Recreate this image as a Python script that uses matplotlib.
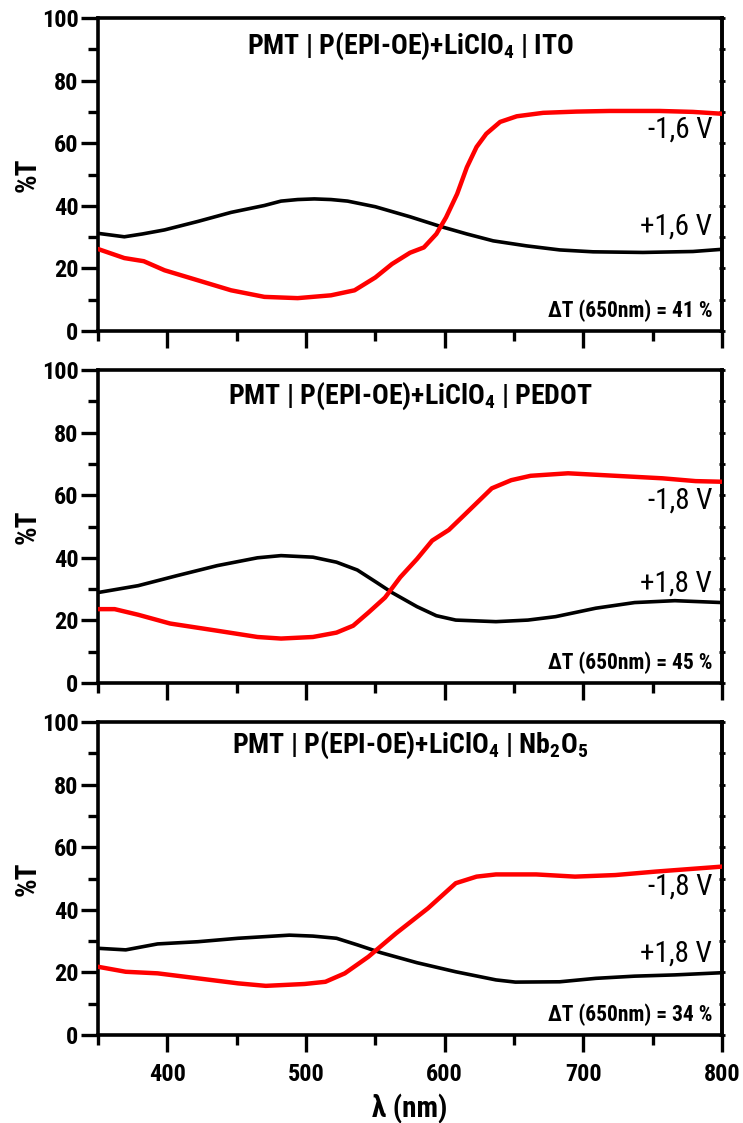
import matplotlib
matplotlib.use("Agg")
import matplotlib.pyplot as plt
from matplotlib.ticker import MultipleLocator
from matplotlib import font_manager as fm


def _has_bold(name):
    for f in fm.fontManager.ttflist:
        if f.name == name:
            w = f.weight
            if isinstance(w, str):
                if w.lower() in ('bold', 'heavy', 'black', 'extra bold', 'semibold'):
                    return True
                try:
                    w = int(w)
                except ValueError:
                    continue
            if w >= 700:
                return True
    return False


cands = ['Liberation Sans Narrow', 'Arial Narrow', 'Roboto Condensed', 'Archivo Narrow',
         'PT Sans Narrow', 'Fira Sans Condensed', 'IBM Plex Sans Condensed',
         'Encode Sans Condensed', 'Barlow Semi Condensed', 'Asap Condensed',
         'Sofia Sans Condensed', 'Open Sans Condensed', 'Pragati Narrow', 'Liberation Sans']
NARROW = next((c for c in cands if _has_bold(c)), 'DejaVu Sans')
FONT = [NARROW, 'DejaVu Sans']
plt.rcParams['font.family'] = FONT
plt.rcParams['mathtext.fontset'] = 'custom'
plt.rcParams['mathtext.rm'] = NARROW + ':bold'
plt.rcParams['mathtext.bf'] = NARROW + ':bold'
plt.rcParams['mathtext.it'] = NARROW + ':bold'

# ---------------- data ----------------
# Panel 1: ITO
ito_pos_x = [350, 369, 382, 398, 422, 446, 470, 482, 494, 506, 518, 530, 550, 575, 597, 616, 635, 659, 683, 707, 743, 779, 800]
ito_pos_y = [31.2, 30.1, 31.0, 32.3, 35.0, 37.9, 40.1, 41.5, 42.0, 42.2, 42.0, 41.5, 39.7, 36.5, 33.4, 31.0, 28.8, 27.2, 25.9, 25.3, 25.1, 25.4, 26.1]
ito_neg_x = [350, 369, 383, 398, 422, 446, 470, 494, 518, 535, 550, 562, 575, 585, 594, 601, 609, 616, 623, 630, 640, 652, 671, 695, 719, 755, 779, 800]
ito_neg_y = [26.2, 23.3, 22.3, 19.4, 16.2, 13.0, 10.9, 10.5, 11.4, 13.0, 17.1, 21.4, 25.0, 26.7, 31.0, 36.3, 43.8, 52.3, 58.8, 63.0, 66.8, 68.6, 69.7, 70.1, 70.3, 70.3, 70.0, 69.4]

# Panel 2: PEDOT
ped_pos_x = [350, 379, 407, 436, 465, 482, 505, 522, 537, 551, 562, 580, 594, 608, 637, 660, 680, 709, 737, 766, 800]
ped_pos_y = [28.9, 31.1, 34.3, 37.5, 40.0, 40.7, 40.2, 38.6, 36.1, 32.1, 28.9, 24.4, 21.5, 20.1, 19.6, 20.1, 21.2, 23.9, 25.7, 26.3, 25.7]
ped_neg_x = [350, 362, 379, 402, 436, 465, 482, 505, 522, 534, 545, 557, 568, 580, 591, 603, 614, 634, 648, 662, 689, 723, 757, 781, 800]
ped_neg_y = [23.6, 23.6, 21.8, 19.0, 16.7, 14.7, 14.2, 14.7, 16.1, 18.3, 22.5, 27.3, 33.8, 39.6, 45.5, 48.9, 53.6, 62.2, 64.8, 66.2, 67.0, 66.2, 65.4, 64.5, 64.3]

# Panel 3: Nb2O5
nb_pos_x = [350, 370, 393, 422, 451, 488, 505, 522, 537, 554, 580, 608, 637, 651, 683, 709, 737, 766, 800]
nb_pos_y = [27.7, 27.2, 29.1, 29.8, 30.9, 31.9, 31.6, 30.9, 28.8, 26.3, 23.1, 20.2, 17.6, 16.9, 17.0, 18.1, 18.8, 19.2, 19.9]
nb_neg_x = [350, 370, 393, 422, 451, 471, 499, 514, 528, 545, 565, 588, 608, 623, 637, 666, 694, 723, 752, 800]
nb_neg_y = [21.8, 20.2, 19.7, 18.1, 16.5, 15.7, 16.3, 17.0, 19.7, 25.0, 32.5, 40.5, 48.5, 50.6, 51.3, 51.3, 50.6, 51.1, 52.2, 53.8]

titles = [r'PMT | P(EPI-OE)+LiClO$_{4}$ | ITO',
          r'PMT | P(EPI-OE)+LiClO$_{4}$ | PEDOT',
          r'PMT | P(EPI-OE)+LiClO$_{4}$ | Nb$_{2}$O$_{5}$']
neg_labels = ['-1,6 V', '-1,8 V', '-1,8 V']
pos_labels = ['+1,6 V', '+1,8 V', '+1,8 V']
delta_labels = ['ΔT (650nm) = 41 %', 'ΔT (650nm) = 45 %', 'ΔT (650nm) = 34 %']
neg_label_y = [64.5, 58.4, 47.3]
pos_label_y = [33.2, 31.8, 26.0]
title_y = [91.0, 91.5, 92.5]

panels = [
    (ito_pos_x, ito_pos_y, ito_neg_x, ito_neg_y),
    (ped_pos_x, ped_pos_y, ped_neg_x, ped_neg_y),
    (nb_pos_x, nb_pos_y, nb_neg_x, nb_neg_y),
]

# ---------------- figure ----------------
fig = plt.figure(figsize=(7.43, 11.23), dpi=100)
W, H = 743, 1123
left, right = 98, 722
tops = [18, 370, 722]
ph = 313

for i, (px, py, nx, ny) in enumerate(panels):
    top = tops[i]
    ax = fig.add_axes([left / W, 1 - (top + ph) / H, (right - left) / W, ph / H])
    ax.plot(px, py, color='black', lw=2.6, solid_capstyle='round',
            solid_joinstyle='round', zorder=3)
    ax.plot(nx, ny, color='#ff0000', lw=3.2, solid_capstyle='round',
            solid_joinstyle='round', zorder=3)
    ax.set_xlim(350, 800)
    ax.set_ylim(0, 100)
    for s in ax.spines.values():
        s.set_linewidth(2.6)
    ax.xaxis.set_major_locator(MultipleLocator(100))
    ax.xaxis.set_minor_locator(MultipleLocator(50))
    ax.yaxis.set_major_locator(MultipleLocator(20))
    ax.yaxis.set_minor_locator(MultipleLocator(10))
    ax.tick_params(axis='x', which='major', direction='out', length=12, width=2.4,
                   labelsize=17.5, pad=8)
    ax.tick_params(axis='x', which='minor', direction='out', length=7, width=2.4)
    ax.tick_params(axis='y', which='major', direction='out', length=12, width=2.4,
                   labelsize=17.5, pad=2)
    ax.tick_params(axis='y', which='minor', direction='out', length=7, width=2.4)
    for lab in ax.get_yticklabels() + ax.get_xticklabels():
        lab.set_fontweight('bold')
    # small crossing ticks on the right spine
    sec = ax.secondary_yaxis('right')
    sec.yaxis.set_major_locator(MultipleLocator(10))
    sec.tick_params(axis='y', which='major', direction='inout', length=5, width=2.0,
                    labelright=False)
    sec.spines['right'].set_linewidth(2.6)
    if i < 2:
        ax.tick_params(axis='x', labelbottom=False)
    else:
        ax.set_xlabel('λ (nm)', fontsize=21, fontweight='bold')
        ax.xaxis.label.set_va('center')
        ax.xaxis.set_label_coords(0.5, -0.235)
    ax.set_ylabel('%T', fontsize=21, fontweight='bold')
    ax.yaxis.label.set_va('center')
    ax.yaxis.set_label_coords(-0.113, 0.5)

    ax.text(0.5, title_y[i], titles[i], transform=ax.get_yaxis_transform(),
            ha='center', va='center', fontsize=20, fontweight='bold')
    ax.text(793, neg_label_y[i], neg_labels[i], ha='right', va='center', fontsize=21)
    ax.text(793, pos_label_y[i], pos_labels[i], ha='right', va='center', fontsize=21)
    ax.text(793, 6.5, delta_labels[i], ha='right', va='center', fontsize=15.5,
            fontweight='bold')

fig.savefig('out.png', dpi=100)
